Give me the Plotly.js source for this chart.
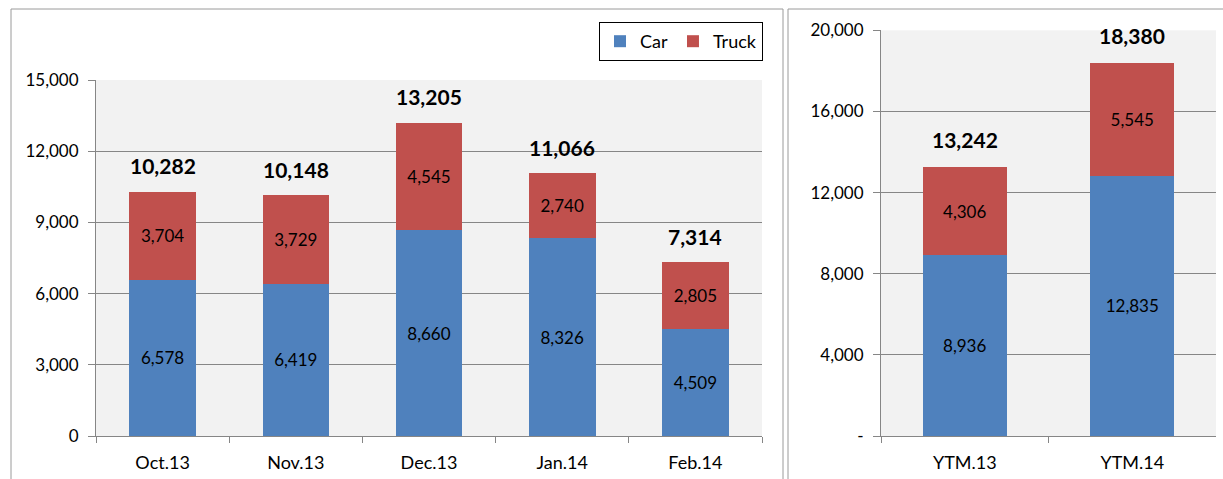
<!DOCTYPE html>
<html>
<head>
<meta charset="utf-8">
<script src="https://cdn.plot.ly/plotly-3.0.1.min.js"></script>
<style>html,body{margin:0;padding:0;background:#fff;}#chart{width:1223px;height:479px;}</style>
</head>
<body>
<div id="chart"></div>
<script>
// ---- data ----
const monthCats = ['Oct.13', 'Nov.13', 'Dec.13', 'Jan.14', 'Feb.14'];
const monthCar = [6578, 6419, 8660, 8326, 4509];
const monthTruck = [3704, 3729, 4545, 2740, 2805];
const monthTotal = [10282, 10148, 13205, 11066, 7314];

const ytmCats = ['YTM.13', 'YTM.14'];
const ytmCar = [8936, 12835];
const ytmTruck = [4306, 5545];
const ytmTotal = [13242, 18380];

const leftTickVals = [0, 3000, 6000, 9000, 12000, 15000];
const leftTickText = ['0', '3,000', '6,000', '9,000', '12,000', '15,000'];
const rightTickVals = [0, 4000, 8000, 12000, 16000, 20000];
const rightTickText = ['-', '4,000', '8,000', '12,000', '16,000', '20,000'];

// ---- styling ----
const W = 1223, H = 479;
const px = v => v / W;
const py = v => (H - v) / H;
const FONT = 'Lato, "Open Sans", sans-serif';
const BLUE = '#4f81bd', RED = '#c0504d';
const AX = '#868686';
const segFont = {family: FONT, size: 17, color: '#000'};

function bar(x, y, name, color, xa, ya, showlegend) {
  return {
    type: 'bar', x: x, y: y, name: name, xaxis: xa, yaxis: ya,
    marker: {color: color, line: {width: 0}},
    texttemplate: '%{y:,}', textposition: 'inside', insidetextanchor: 'middle',
    textfont: segFont, insidetextfont: segFont, showlegend: showlegend,
    constraintext: 'none', hoverinfo: 'skip'
  };
}

const traces = [
  bar(monthCats, monthCar, 'Car', BLUE, 'x', 'y', true),
  bar(monthCats, monthTruck, 'Truck', RED, 'x', 'y', true),
  bar(ytmCats, ytmCar, 'Car', BLUE, 'x2', 'y2', false),
  bar(ytmCats, ytmTruck, 'Truck', RED, 'x2', 'y2', false)
];

const totalFont = {family: FONT, size: 21, color: '#000', weight: 'bold'};
const annotations = [];
monthCats.forEach((c, i) => annotations.push({
  x: c, y: monthTotal[i], xref: 'x', yref: 'y', text: monthTotal[i].toLocaleString('en-US'),
  showarrow: false, yanchor: 'middle', yshift: 26, font: totalFont
}));
ytmCats.forEach((c, i) => annotations.push({
  x: c, y: ytmTotal[i], xref: 'x2', yref: 'y2', text: ytmTotal[i].toLocaleString('en-US'),
  showarrow: false, yanchor: 'middle', yshift: 28, font: totalFont
}));

const xBase = {
  type: 'category', showline: true, linecolor: AX, linewidth: 1,
  ticks: 'outside', tickson: 'boundaries', ticklen: 6, tickcolor: AX, tickwidth: 1,
  showgrid: false, zeroline: false, fixedrange: true, ticklabelstandoff: 10,
  tickfont: {family: FONT, size: 18, color: '#000'}
};
const yBase = {
  showline: true, linecolor: AX, linewidth: 1, ticks: 'outside', ticklen: 7,
  tickcolor: AX, tickwidth: 1, showgrid: true, gridcolor: AX, gridwidth: 1,
  zeroline: false, fixedrange: true, ticklabelstandoff: 6,
  tickfont: {family: FONT, size: 17, color: '#000'}, tickmode: 'array'
};

const layout = {
  width: W, height: H, margin: {l: 0, r: 0, t: 0, b: 0},
  paper_bgcolor: '#ffffff', plot_bgcolor: '#f2f2f2',
  barmode: 'stack', bargap: 0.5,
  font: {family: FONT, color: '#000'},
  xaxis: Object.assign({}, xBase, {domain: [px(96), px(762)], anchor: 'y'}),
  yaxis: Object.assign({}, yBase, {domain: [py(436), py(80)], anchor: 'x', range: [0, 15000],
    tickvals: leftTickVals, ticktext: leftTickText}),
  xaxis2: Object.assign({}, xBase, {domain: [px(881), px(1216)], anchor: 'y2'}),
  yaxis2: Object.assign({}, yBase, {domain: [py(436), py(30.3)], anchor: 'x2', range: [0, 20000],
    tickvals: rightTickVals, ticktext: rightTickText}),
  legend: {
    orientation: 'h', x: px(763), xanchor: 'right', y: py(22), yanchor: 'top',
    bordercolor: '#000', borderwidth: 1, bgcolor: '#fff', itemwidth: 30,
    font: {family: FONT, size: 18, color: '#000'}, traceorder: 'normal'
  },
  annotations: annotations,
  shapes: [
    {type: 'rect', xref: 'paper', yref: 'paper', x0: px(11), x1: px(783), y0: py(495), y1: py(9),
     line: {color: '#9a9a9a', width: 1}, fillcolor: 'rgba(0,0,0,0)', layer: 'below'},
    {type: 'rect', xref: 'paper', yref: 'paper', x0: px(788), x1: px(1235), y0: py(495), y1: py(9),
     line: {color: '#9a9a9a', width: 1}, fillcolor: 'rgba(0,0,0,0)', layer: 'below'}
  ],
  hovermode: false
};

Plotly.newPlot('chart', traces, layout, {staticPlot: true, displayModeBar: false});
</script>
</body>
</html>
